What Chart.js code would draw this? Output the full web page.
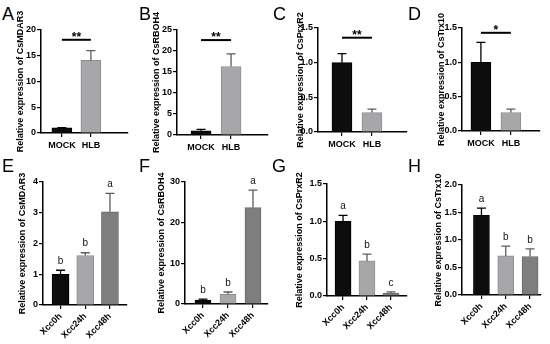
<!DOCTYPE html>
<html>
<head>
<meta charset="utf-8">
<script src="https://cdn.jsdelivr.net/npm/chart.js@4.4.1/dist/chart.umd.min.js"></script>
<style>
	html, body { margin: 0; padding: 0; background: #fff; }
	#fig { position: relative; width: 550px; height: 344px; overflow: hidden; font-family: 'Liberation Sans', Arial, sans-serif; }
	#fig canvas { position: absolute; }
	.tag { position: absolute; font-size: 18px; line-height: 18px; color: #000; }
</style>
</head>
<body>
<div id="fig"></div>
<script>
	// =====================================
	// DATA
	// =====================================

	const hlbGroups = ['MOCK', 'HLB'];
	const xccGroups = ['Xcc0h', 'Xcc24h', 'Xcc48h'];

	const mdar3HlbMean = [1.0, 14.1];
	const mdar3HlbErr = [0.05, 1.9];
	const rboh4HlbMean = [1.0, 16.3];
	const rboh4HlbErr = [0.35, 3.0];
	const prxr2HlbMean = [1.0, 0.28];
	const prxr2HlbErr = [0.13, 0.05];
	const trx10HlbMean = [1.0, 0.27];
	const trx10HlbErr = [0.29, 0.05];

	// significance bar height (data units) + stars, panels A-D
	const hlbSigLevel = [18.1, 22.6, 1.36, 1.43];
	const hlbSigText = ['**', '**', '**', '*'];

	const mdar3XccMean = [1.0, 1.61, 3.03];
	const mdar3XccErr = [0.13, 0.09, 0.6];
	const rboh4XccMean = [0.95, 2.4, 23.7];
	const rboh4XccErr = [0.25, 0.55, 4.3];
	const prxr2XccMean = [1.0, 0.47, 0.04];
	const prxr2XccErr = [0.08, 0.09, 0.015];
	const trx10XccMean = [1.45, 0.71, 0.7];
	const trx10XccErr = [0.13, 0.18, 0.14];

	const mdar3XccLetters = ['b', 'b', 'a'];
	const rboh4XccLetters = ['b', 'b', 'a'];
	const prxr2XccLetters = ['a', 'b', 'c'];
	const trx10XccLetters = ['a', 'b', 'b'];

	// =====================================
	// STYLE
	// =====================================

	const FONT = "'Liberation Sans', Arial, sans-serif";
	const barFill = ['#0d0d0d', '#a7a7aa', '#7e7e80'];
	const barEdge = ['#000000', '#8e8e91', '#69696b'];
	const errColor = ['#000000', '#5c5c5e', '#5c5c5e'];

	// box: title centre x, y-axis x, x-axis right end, top tick y, zero y (page pixels)
	const panels = [
		{ tag: 'A', tagAt: [2, 5], gene: 'CsMDAR3', groups: hlbGroups, mean: mdar3HlbMean, err: mdar3HlbErr, yMax: 20, yStep: 5, dec: false, xMin: -0.72, xMax: 2.28, sig: 0, barW: 20, box: [20.5, 41, 128, 30, 133] },
		{ tag: 'B', tagAt: [139, 5], gene: 'CsRBOH4', groups: hlbGroups, mean: rboh4HlbMean, err: rboh4HlbErr, yMax: 25, yStep: 5, dec: false, xMin: -0.8, xMax: 2.23, sig: 1, barW: 20, box: [156.5, 177, 268, 30, 135] },
		{ tag: 'C', tagAt: [273, 5], gene: 'CsPrxR2', groups: hlbGroups, mean: prxr2HlbMean, err: prxr2HlbErr, yMax: 1.5, yStep: 0.5, dec: true, xMin: -0.8, xMax: 2.17, sig: 2, barW: 20, box: [300, 318, 407, 28, 132] },
		{ tag: 'D', tagAt: [408, 5], gene: 'CsTrx10', groups: hlbGroups, mean: trx10HlbMean, err: trx10HlbErr, yMax: 1.5, yStep: 0.5, dec: true, xMin: -0.63, xMax: 1.97, sig: 3, barW: 20, box: [441, 462, 540, 28, 131] },
		{ tag: 'E', tagAt: [2, 157], gene: 'CsMDAR3', groups: xccGroups, mean: mdar3XccMean, err: mdar3XccErr, letters: mdar3XccLetters, yMax: 4, yStep: 1, dec: false, xMin: -0.71, xMax: 2.69, barW: 17, box: [22.5, 43, 127, 182, 305] },
		{ tag: 'F', tagAt: [139, 157], gene: 'CsRBOH4', groups: xccGroups, mean: rboh4XccMean, err: rboh4XccErr, letters: rboh4XccLetters, yMax: 30, yStep: 10, dec: false, xMin: -0.72, xMax: 2.6, barW: 16, box: [161.5, 185, 268, 182, 304] },
		{ tag: 'G', tagAt: [272, 157], gene: 'CsPrxR2', groups: xccGroups, mean: prxr2XccMean, err: prxr2XccErr, letters: prxr2XccLetters, yMax: 1.5, yStep: 0.5, dec: true, xMin: -0.67, xMax: 2.67, barW: 16, box: [299.5, 327, 407, 184, 296] },
		{ tag: 'H', tagAt: [408, 157], gene: 'CsTrx10', groups: xccGroups, mean: trx10XccMean, err: trx10XccErr, letters: trx10XccLetters, yMax: 2, yStep: 0.5, dec: true, xMin: -0.8, xMax: 2.45, barW: 16, box: [438.5, 462, 541, 185, 295] },
	];

	// =====================================
	// OVERLAY: error bars, letters, significance
	// =====================================

	const makeOverlay = (p) => ({
		id: 'overlay',
		afterDatasetsDraw(chart) {
			const ctx = chart.ctx;
			const ys = chart.scales.y;
			const bars = chart.getDatasetMeta(0).data;
			ctx.save();
			bars.forEach((bar, i) => {
				const top = ys.getPixelForValue(p.mean[i] + p.err[i]);
				ctx.strokeStyle = errColor[i];
				ctx.lineWidth = 1.3;
				ctx.beginPath();
				ctx.moveTo(bar.x, bar.y);
				ctx.lineTo(bar.x, top);
				ctx.moveTo(bar.x - 4.5, top);
				ctx.lineTo(bar.x + 4.5, top);
				ctx.stroke();
				if (p.letters) {
					ctx.fillStyle = '#111';
					ctx.font = `10px ${FONT}`;
					ctx.textAlign = 'center';
					ctx.textBaseline = 'bottom';
					ctx.fillText(p.letters[i], bar.x, top - 4);
				}
			});
			if (p.sig !== undefined) {
				const y = ys.getPixelForValue(hlbSigLevel[p.sig]);
				ctx.strokeStyle = '#000';
				ctx.lineWidth = 2;
				ctx.beginPath();
				ctx.moveTo(bars[0].x, y);
				ctx.lineTo(bars[1].x, y);
				ctx.stroke();
				ctx.fillStyle = '#000';
				ctx.font = `bold 12px ${FONT}`;
				ctx.textAlign = 'center';
				ctx.textBaseline = 'alphabetic';
				ctx.fillText(hlbSigText[p.sig], (bars[0].x + bars[1].x) / 2, y + 1);
			}
			ctx.restore();
		},
	});

	// =====================================
	// BUILD PANELS
	// =====================================

	const fig = document.getElementById('fig');

	panels.forEach((p) => {
		const [titleX, axisX, right, top, bottom] = p.box;
		const rotated = p.groups.length === 3;
		const canvasTop = rotated ? 150 : 0;
		const padTop = top - canvasTop;
		const padRight = 4;
		const xH = rotated ? 44 : 28;
		const left = Math.round(titleX - 5.4);
		const yW = axisX - left;
		const w = Math.round(right + padRight - left);
		const h = Math.round(bottom - canvasTop + xH);

		const cv = document.createElement('canvas');
		cv.width = w;
		cv.height = h;
		cv.style.left = left + 'px';
		cv.style.top = canvasTop + 'px';
		cv.style.width = w + 'px';
		cv.style.height = h + 'px';
		fig.appendChild(cv);

		const tag = document.createElement('div');
		tag.className = 'tag';
		tag.textContent = p.tag;
		tag.style.left = p.tagAt[0] + 'px';
		tag.style.top = p.tagAt[1] + 'px';
		fig.appendChild(tag);

		const n = p.groups.length;
		const axisGrid = {
			display: true,
			drawOnChartArea: false,
			drawTicks: true,
			tickLength: 4,
			offset: false,
			color: '#000',
			lineWidth: 1.2,
		};
		const axisBorder = { display: true, color: '#000', width: 1.5 };

		new Chart(cv, {
			type: 'bar',
			data: {
				datasets: [
					{
						data: p.mean.map((v, i) => ({ x: i, y: v })),
						backgroundColor: barFill.slice(0, n),
						borderColor: barEdge.slice(0, n),
						borderWidth: 1,
						barThickness: p.barW,
					},
				],
			},
			options: {
				responsive: false,
				animation: false,
				devicePixelRatio: 1,
				layout: { padding: { top: padTop, right: padRight, left: 0, bottom: 0 } },
				plugins: { legend: { display: false }, tooltip: { enabled: false } },
				scales: {
					x: {
						type: 'linear',
						bounds: 'data',
						offset: false,
						min: p.xMin,
						max: p.xMax,
						afterBuildTicks: (s) => {
							s.ticks = p.groups.map((_, i) => ({ value: i }));
						},
						afterFit: (s) => {
							s.height = xH;
						},
						grid: axisGrid,
						border: axisBorder,
						ticks: {
							autoSkip: false,
							padding: rotated ? 2 : 3,
							color: '#000',
							font: { family: FONT, size: 9, weight: 'bold' },
							minRotation: rotated ? 45 : 0,
							maxRotation: rotated ? 45 : 0,
							callback: (v) => p.groups[v],
						},
					},
					y: {
						min: 0,
						max: p.yMax,
						afterFit: (s) => {
							s.width = yW;
						},
						grid: axisGrid,
						border: axisBorder,
						ticks: {
							stepSize: p.yStep,
							padding: 1,
							color: '#000',
							font: { family: FONT, size: 9, weight: 'bold' },
							callback: (v) => (p.dec ? Number(v).toFixed(1) : v),
						},
						title: {
							display: true,
							text: 'Relative expression of ' + p.gene,
							color: '#000',
							font: { family: FONT, size: 9, weight: 'bold' },
							padding: { top: 0, bottom: 0 },
						},
					},
				},
			},
			plugins: [makeOverlay(p)],
		});
	});
</script>
</body>
</html>
